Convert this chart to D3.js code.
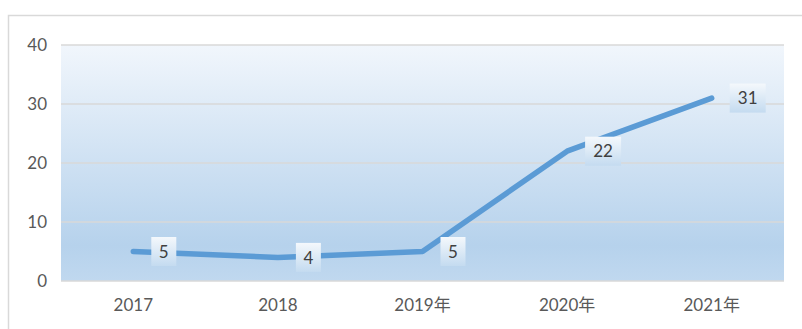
<!DOCTYPE html>
<html>
<head>
<meta charset="utf-8">
<script src="https://cdn.jsdelivr.net/npm/d3@7"></script>
<style>
  html, body { margin: 0; padding: 0; background: #ffffff; }
  svg { display: block; }
  text { font-family: "Lato", "Noto Sans CJK SC", sans-serif; }
</style>
</head>
<body>
<svg id="chart" width="802" height="329"></svg>
<script>
// Yearly counts
const categories = ["2017", "2018", "2019年", "2020年", "2021年"];
const values = [5, 4, 5, 22, 31];
const yTicks = [0, 10, 20, 30, 40];

const W = 802, H = 329;
const plot = { left: 61, right: 784, top: 45, bottom: 281 };

const svg = d3.select("#chart");
const defs = svg.append("defs");

// Plot area fill: pale at top deepening to light blue
const bg = defs.append("linearGradient").attr("id", "bgGrad")
  .attr("x1", 0).attr("y1", 0).attr("x2", 0).attr("y2", 1);
bg.append("stop").attr("offset", "0%").attr("stop-color", "#f1f6fc");
bg.append("stop").attr("offset", "85%").attr("stop-color", "#b6d2ec");
bg.append("stop").attr("offset", "100%").attr("stop-color", "#c0d8ef");

// Label boxes: near-white on top, light blue below
const lb = defs.append("linearGradient").attr("id", "lblGrad")
  .attr("x1", 0).attr("y1", 0).attr("x2", 0).attr("y2", 1);
lb.append("stop").attr("offset", "0%").attr("stop-color", "#f4f8fc");
lb.append("stop").attr("offset", "100%").attr("stop-color", "#c4dbf0");

// Outer frame
svg.append("rect")
  .attr("x", 8.5).attr("y", 15.5)
  .attr("width", W).attr("height", H)
  .attr("fill", "#ffffff").attr("stroke", "#d9d9d9").attr("stroke-width", 1.5);

const x = d3.scaleBand().domain(categories)
  .range([plot.left, plot.right]).paddingInner(0).paddingOuter(0);
const y = d3.scaleLinear().domain([0, 40]).range([plot.bottom, plot.top]);

svg.append("rect")
  .attr("x", plot.left).attr("y", plot.top)
  .attr("width", plot.right - plot.left).attr("height", plot.bottom - plot.top)
  .attr("fill", "url(#bgGrad)");

// Gridlines
svg.append("g").selectAll("line").data(yTicks).join("line")
  .attr("x1", plot.left).attr("x2", plot.right)
  .attr("y1", d => y(d)).attr("y2", d => y(d))
  .attr("stroke", "#d9d9d9").attr("stroke-width", 1.5);

// Y axis labels
const yAxis = d3.axisLeft(y).tickValues(yTicks).tickSize(0).tickPadding(14);
const gy = svg.append("g").attr("transform", `translate(${plot.left},0)`).call(yAxis);
gy.select(".domain").remove();
gy.selectAll("text").attr("font-size", 17).attr("fill", "#595959")
  .attr("font-family", "Lato, 'Noto Sans CJK SC', sans-serif");

// X axis labels
const xAxis = d3.axisBottom(x).tickSize(0).tickPadding(18);
const gx = svg.append("g").attr("transform", `translate(0,${plot.bottom})`).call(xAxis);
gx.select(".domain").remove();
gx.selectAll("text").attr("font-size", 17).attr("fill", "#595959")
  .attr("font-family", "Lato, 'Noto Sans CJK SC', sans-serif");

const cx = d => x(d) + x.bandwidth() / 2;
const pts = categories.map((c, i) => [cx(c), y(values[i])]);

// Series line
svg.append("path")
  .attr("d", d3.line()(pts))
  .attr("fill", "none")
  .attr("stroke", "#5b9bd5")
  .attr("stroke-width", 5.5)
  .attr("stroke-linecap", "round")
  .attr("stroke-linejoin", "round");

// Value labels in boxes to the right of each point
const lab = svg.append("g").selectAll("g").data(values).join("g")
  .attr("transform", (d, i) => `translate(${pts[i][0] + 18},${pts[i][1]})`);
lab.append("rect")
  .attr("x", 0)
  .attr("y", -14.5)
  .attr("width", d => String(d).length > 1 ? 36 : 25)
  .attr("height", 29)
  .attr("fill", "url(#lblGrad)");
lab.append("text")
  .attr("x", d => String(d).length > 1 ? 18 : 12.5)
  .attr("y", 0)
  .attr("dy", "0.36em")
  .attr("text-anchor", "middle")
  .attr("font-size", 17)
  .attr("fill", "#404040")
  .text(d => d);
</script>
</body>
</html>
